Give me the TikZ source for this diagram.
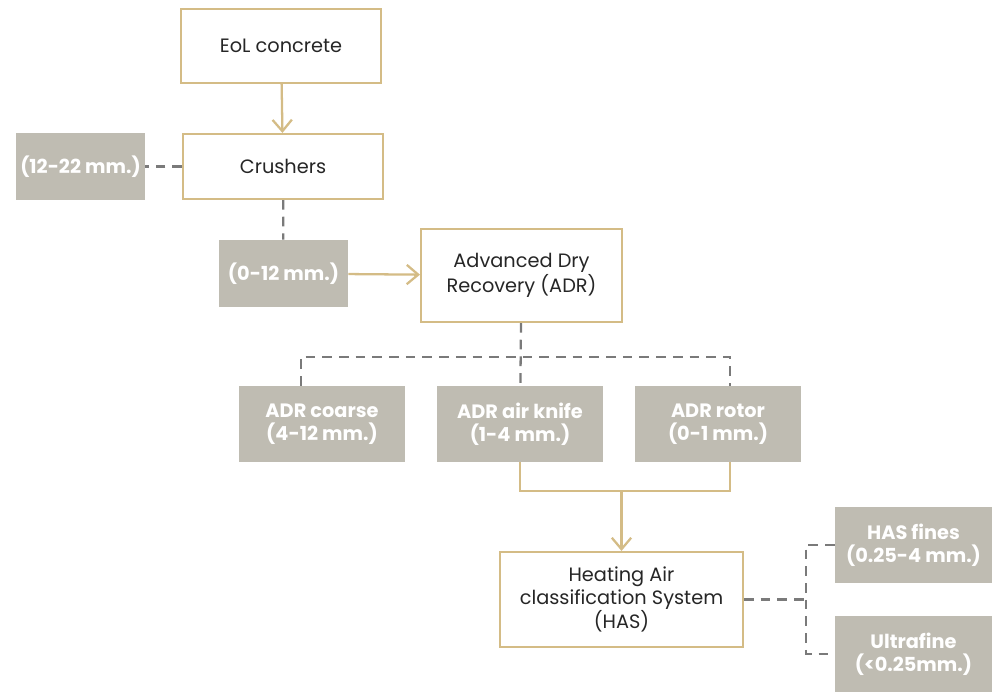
\documentclass[tikz,border=0pt]{standalone}
\usepackage{fontspec}
\setmainfont{Poppins}
\usetikzlibrary{arrows.meta}

\definecolor{goldline}{RGB}{212,188,134}
\definecolor{stonegray}{RGB}{191,188,178}
\definecolor{dashgray}{RGB}{122,122,122}
\definecolor{inktext}{RGB}{38,38,38}

\tikzset{
  stagebox/.style={draw=goldline, line width=1.2pt, fill=white, align=center,
    text=inktext, font=\fontsize{11}{13}\selectfont, inner sep=2pt},
  fractionbox/.style={fill=stonegray, align=center, text=white,
    font=\fontsize{11}{13}\selectfont\bfseries, inner sep=2pt},
  flowline/.style={draw=goldline, line width=1.3pt},
  flowarrow/.style={flowline, -{Straight Barb[length=6.5pt,width=11pt]}},
  splitline/.style={draw=dashgray, line width=1.3pt, dash pattern=on 5.5pt off 4pt}
}

\begin{document}
\begin{tikzpicture}[x=0.02cm,y=-0.02cm]
\useasboundingbox (0,0) rectangle (992,691);
% main process steps
\node[stagebox, minimum width=4cm, minimum height=1.48cm] (eol) at (281,46) {EoL concrete};
\node[stagebox, minimum width=4cm, minimum height=1.3cm] (crush) at (283,166.5) {Crushers};
\node[stagebox, minimum width=4.02cm, minimum height=1.86cm] (adr) at (521.5,275.5) {Advanced Dry\\Recovery (ADR)};
\node[stagebox, minimum width=4.86cm, minimum height=1.9cm] (has) at (621.5,599.5) {Heating Air\\classification System\\(HAS)};
% size fractions
\node[fractionbox, minimum width=2.58cm, minimum height=1.34cm] (over) at (80.5,166.5) {(12-22 mm.)};
\node[fractionbox, minimum width=2.58cm, minimum height=1.34cm] (under) at (283.5,273.5) {(0-12 mm.)};
\node[fractionbox, minimum width=3.32cm, minimum height=1.52cm] (coarse) at (322,424) {ADR coarse\\(4-12 mm.)};
\node[fractionbox, minimum width=3.32cm, minimum height=1.52cm] (knife) at (520,424) {ADR air knife\\(1-4 mm.)};
\node[fractionbox, minimum width=3.32cm, minimum height=1.52cm] (rotor) at (718,424) {ADR rotor\\(0-1 mm.)};
\node[fractionbox, minimum width=3.14cm, minimum height=1.52cm] (fines) at (913.5,545) {HAS fines\\(0.25-4 mm.)};
\node[fractionbox, minimum width=3.14cm, minimum height=1.52cm] (ultra) at (913.5,654) {Ultrafine\\(<0.25mm.)};

% gold flow
\draw[flowarrow] (eol) -- (crush);
\draw[flowarrow] (under) -- (adr);
\draw[flowline] (knife.south) -- ++(0,29) coordinate (merge) -| ([xshift=7]rotor.south);
\draw[flowarrow] (merge -| has.north) -- (has.north);

% dashed splits
\draw[splitline] (crush) -- (over);
\draw[splitline] (crush) -- (under);
\draw[splitline] (adr) -- (knife);
\coordinate (adrsplit) at (521,357);
\draw[splitline] ([xshift=-12]coarse.north) |- (adrsplit) -| ([xshift=7]rotor.north);
\coordinate (hasfork) at (806,599.5);
\draw[splitline] (has) -- (hasfork);
\draw[splitline] (fines.west) -| (hasfork) |- (ultra.west);
\end{tikzpicture}
\end{document}
